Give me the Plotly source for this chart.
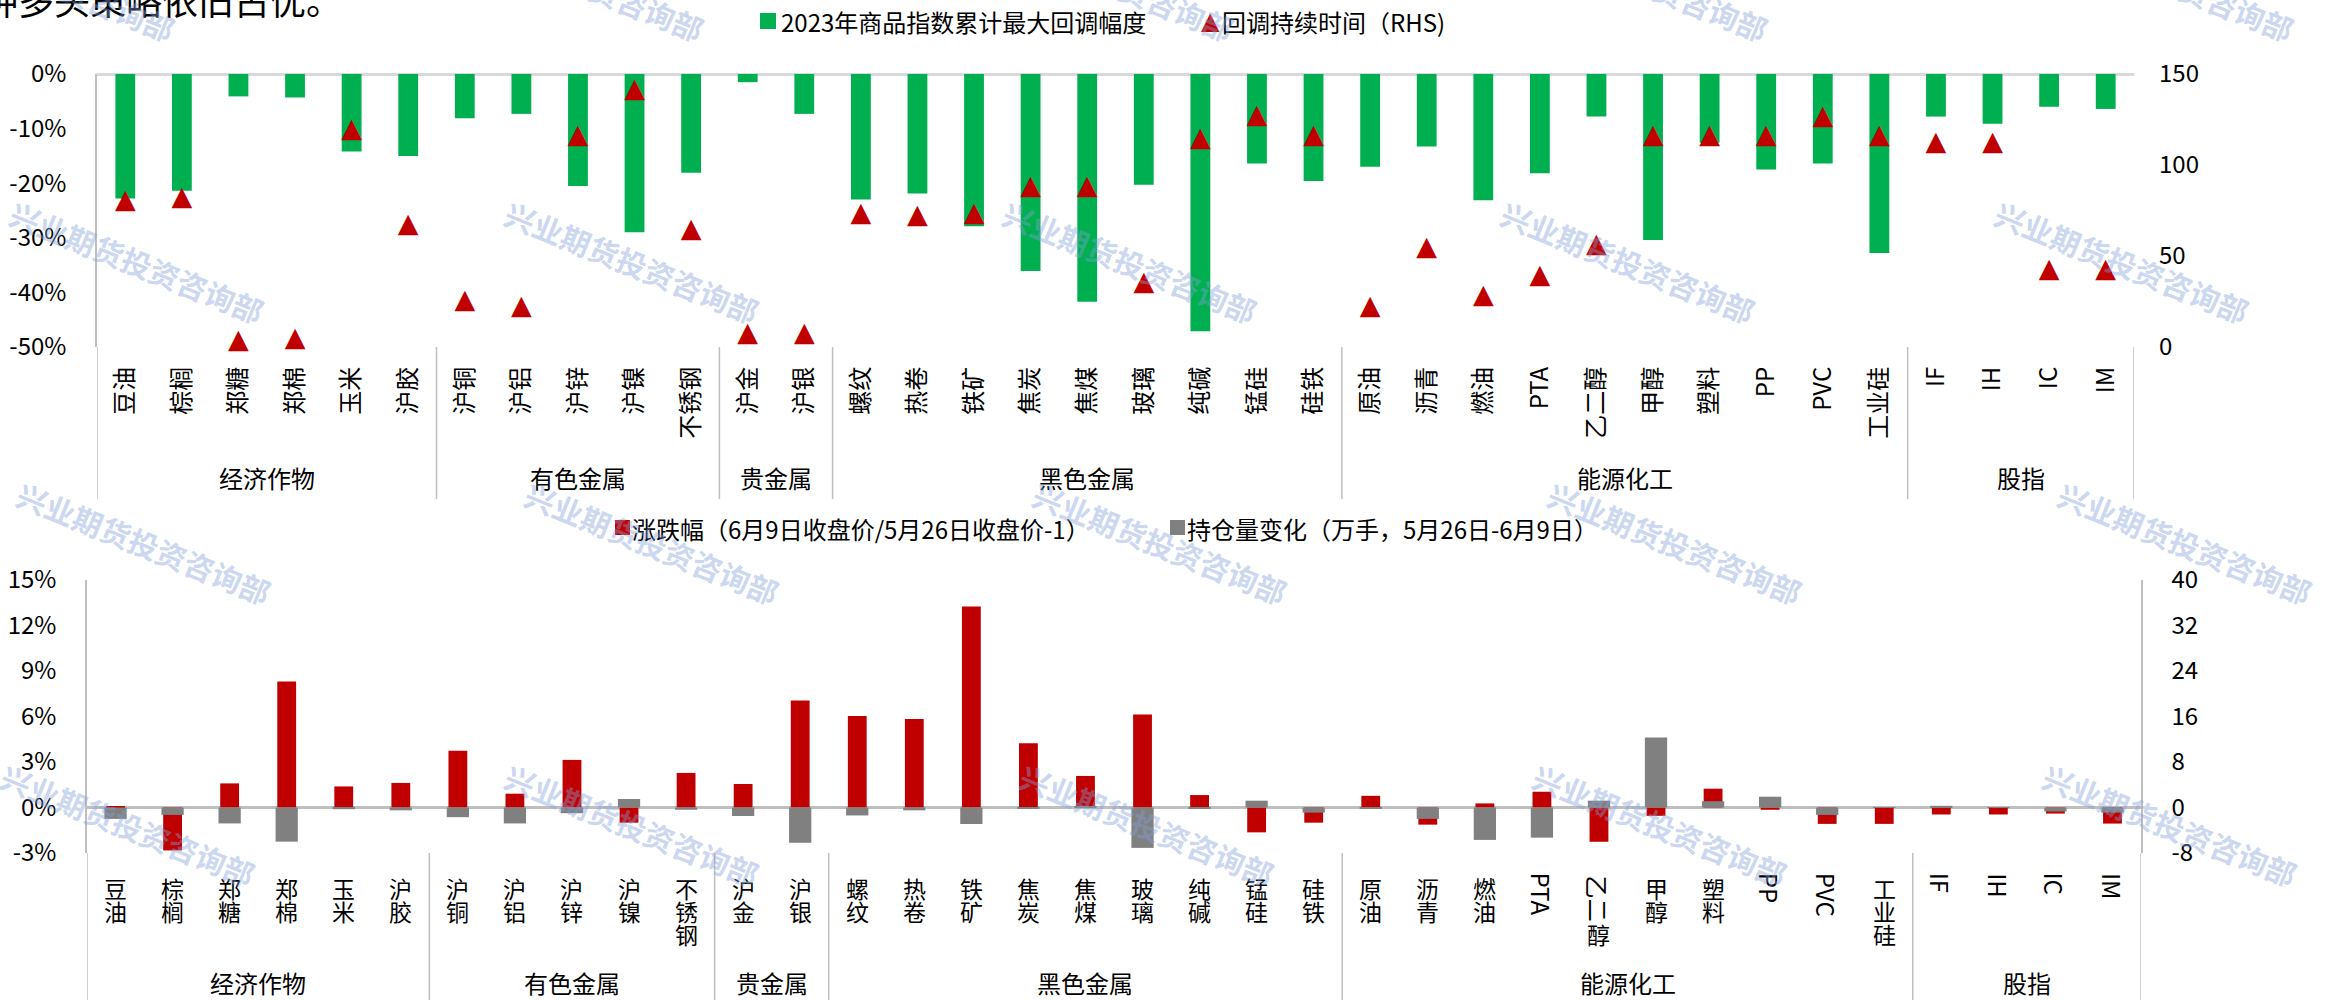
import plotly.graph_objects as go

# ---- data -------------------------------------------------------------
categories = ["豆油", "棕榈", "郑糖", "郑棉", "玉米", "沪胶",
              "沪铜", "沪铝", "沪锌", "沪镍", "不锈钢",
              "沪金", "沪银",
              "螺纹", "热卷", "铁矿", "焦炭", "焦煤", "玻璃", "纯碱", "锰硅", "硅铁",
              "原油", "沥青", "燃油", "PTA", "乙二醇", "甲醇", "塑料", "PP", "PVC", "工业硅",
              "IF", "IH", "IC", "IM"]
group_names = ["经济作物", "有色金属", "贵金属", "黑色金属", "能源化工", "股指"]
group_sizes = [6, 5, 2, 9, 10, 4]

# 2023 max cumulative drawdown of each commodity index (%)
drawdown_2023 = [-22.8, -21.4, -4.1, -4.3, -14.2, -15.0,
                 -8.1, -7.3, -20.5, -29.0, -18.1,
                 -1.5, -7.3,
                 -23.0, -21.9, -27.9, -36.1, -41.7, -20.3, -47.1, -16.4, -19.6,
                 -17.0, -13.3, -23.1, -18.2, -7.8, -30.4, -12.6, -17.5, -16.4, -32.8,
                 -7.8, -9.1, -6.0, -6.4]
# duration of the drawdown (days, right axis)
drawdown_days = [80, 82, 3, 4, 119, 67,
                 25, 22, 116, 141, 64,
                 7, 7,
                 73, 72, 73, 88, 88, 35, 114, 127, 116,
                 22, 54, 28, 39, 56, 116, 116, 116, 126, 116,
                 112, 112, 42, 42]
# price change 5/26 -> 6/9 (%)
price_change = [0.05, -2.83, 1.59, 8.30, 1.39, 1.62,
                3.74, 0.91, 3.14, -1.00, 2.28,
                1.55, 7.06,
                6.04, 5.84, 13.25, 4.23, 2.08, 6.13, 0.82, -1.64, -1.00,
                0.77, -1.13, 0.27, 1.04, -2.26, -0.55, 1.24, -0.15, -1.08, -1.08,
                -0.46, -0.46, -0.40, -1.06]
# open interest change 5/26 -> 6/9 (10k lots, right axis)
oi_change = [-2.0, -1.3, -2.8, -6.0, -0.3, -0.5,
             -1.7, -2.8, -1.0, 1.5, -0.4,
             -1.5, -6.2,
             -1.4, -0.5, -2.9, -0.1, 0.2, -7.1, -0.1, 1.2, -0.9,
             -0.1, -2.0, -5.7, -5.3, 1.2, 12.3, 1.1, 1.9, -1.3, -0.05,
             0.3, -0.05, -0.7, -0.9]

dd_ticks = [-50, -40, -30, -20, -10, 0]
dd_tick_text = ["-50%", "-40%", "-30%", "-20%", "-10%", "0%"]
days_ticks = [0, 50, 100, 150]
days_tick_text = ["0", "50", "100", "150"]
chg_ticks = [-3, 0, 3, 6, 9, 12, 15]
chg_tick_text = ["-3%", "0%", "3%", "6%", "9%", "12%", "15%"]
oi_ticks = [-8, 0, 8, 16, 24, 32, 40]
oi_tick_text = ["-8", "0", "8", "16", "24", "32", "40"]

legend_top = ["2023年商品指数累计最大回调幅度", "回调持续时间（RHS)"]
legend_bottom = ["涨跌幅（6月9日收盘价/5月26日收盘价-1）", "持仓量变化（万手，5月26日-6月9日）"]
lead_text = "种多头策略依旧占优。"
watermark = "兴业期货投资咨询部"

# ---- styling ------------------------------------------------------------
W, H = 2333, 1000
FONT = "Noto Sans CJK SC"
GREEN, RED, GREY = "#00B050", "#C00000", "#808080"
AXIS_GREY = "#BFBFBF"
TRI_SIZE = 27


def px(x):
    return x / W


def py(y):
    return 1 - y / H


top_x = [px(97), px(2134)]
top_y = [py(347), py(74)]
bot_x = [px(87), px(2141)]
bot_y = [py(853), py(580)]

fig = go.Figure()

fig.add_trace(go.Bar(x=categories, y=drawdown_2023, xaxis="x", yaxis="y",
                     width=0.35, marker=dict(color=GREEN, line=dict(width=0)),
                     hoverinfo="x+y"))
fig.add_trace(go.Scatter(x=categories, y=drawdown_days, xaxis="x", yaxis="y2",
                         mode="text", text=["▲"] * len(categories),
                         textposition="middle center",
                         textfont=dict(family="DejaVu Sans", size=TRI_SIZE, color=RED),
                         cliponaxis=False, hoverinfo="x+y"))
fig.add_trace(go.Bar(x=categories, y=price_change, xaxis="x2", yaxis="y3",
                     width=0.33, marker=dict(color=RED, line=dict(width=0)),
                     hoverinfo="x+y"))
fig.add_trace(go.Bar(x=categories, y=oi_change, xaxis="x2", yaxis="y4",
                     width=0.39, marker=dict(color=GREY, line=dict(width=0)),
                     hoverinfo="x+y"))

tickfont = dict(family=FONT, size=24, color="#000000")

shapes = []
annotations = []

# group dividers and group names under both category axes
bounds = [-0.5]
for n in group_sizes:
    bounds.append(bounds[-1] + n)
for b in bounds:
    shapes.append(dict(type="line", xref="x", yref="paper", x0=b, x1=b,
                       y0=py(499), y1=top_y[0], line=dict(color=AXIS_GREY, width=1.5)))
    shapes.append(dict(type="line", xref="x2", yref="paper", x0=b, x1=b,
                       y0=0, y1=bot_y[0], line=dict(color=AXIS_GREY, width=1.5)))
for name, lo, hi in zip(group_names, bounds[:-1], bounds[1:]):
    mid = (lo + hi) / 2
    annotations.append(dict(text=name, xref="x", yref="paper", x=mid, y=py(477),
                            xanchor="center", yanchor="middle", showarrow=False,
                            font=dict(family=FONT, size=24, color="#000000")))
    annotations.append(dict(text=name, xref="x2", yref="paper", x=mid, y=py(982),
                            xanchor="center", yanchor="middle", showarrow=False,
                            font=dict(family=FONT, size=24, color="#000000")))

# lower chart category names: CJK stacked one character per row,
# latin codes turned sideways
sideways_chars = {"乙", "二"}
for name in categories:
    if name.isascii():
        annotations.append(dict(text=name, xref="x2", yref="paper", x=name, y=py(871),
                                xanchor="center", yanchor="top", textangle=90,
                                showarrow=False,
                                font=dict(family=FONT, size=24, color="#000000")))
    else:
        for k, ch in enumerate(name):
            annotations.append(dict(text=ch, xref="x2", yref="paper", x=name,
                                    y=py(887.5 + 23.3 * k), xanchor="center",
                                    yanchor="middle",
                                    textangle=90 if ch in sideways_chars else 0,
                                    showarrow=False,
                                    font=dict(family=FONT, size=23, color="#000000")))

# legends
legend_font = dict(family=FONT, size=24, color="#000000")
shapes.append(dict(type="rect", xref="paper", yref="paper", x0=px(760), x1=px(776),
                   y0=py(29), y1=py(13), fillcolor=GREEN, line=dict(width=0)))
annotations.append(dict(text=legend_top[0], xref="paper", yref="paper", x=px(779), y=py(21),
                        xanchor="left", yanchor="middle", showarrow=False, font=legend_font))
annotations.append(dict(text="▲", xref="paper", yref="paper", x=px(1210), y=py(21),
                        xanchor="center", yanchor="middle", showarrow=False,
                        font=dict(family="DejaVu Sans", size=TRI_SIZE - 3, color=RED)))
annotations.append(dict(text=legend_top[1], xref="paper", yref="paper", x=px(1220), y=py(21),
                        xanchor="left", yanchor="middle", showarrow=False, font=legend_font))

shapes.append(dict(type="rect", xref="paper", yref="paper", x0=px(615), x1=px(630),
                   y0=py(535), y1=py(520), fillcolor=RED, line=dict(width=0)))
annotations.append(dict(text=legend_bottom[0], xref="paper", yref="paper", x=px(630), y=py(528),
                        xanchor="left", yanchor="middle", showarrow=False, font=legend_font))
shapes.append(dict(type="rect", xref="paper", yref="paper", x0=px(1170), x1=px(1185),
                   y0=py(535), y1=py(520), fillcolor=GREY, line=dict(width=0)))
annotations.append(dict(text=legend_bottom[1], xref="paper", yref="paper", x=px(1185), y=py(528),
                        xanchor="left", yanchor="middle", showarrow=False, font=legend_font))

# tail of the preceding paragraph, cut at the top edge
annotations.append(dict(text=lead_text, xref="paper", yref="paper", x=px(-20), y=py(-1),
                        xanchor="left", yanchor="middle", showarrow=False,
                        font=dict(family=FONT, size=36, color="#000000")))

# watermark tiles
wm_rows = [(-20, [48, 577, 1107, 1641, 2167]),
           (262, [137, 632, 1130, 1628, 2122]),
           (543, [144, 652, 1160, 1675, 2185]),
           (825, [128, 632, 1147, 1660, 2170])]
for wy, xs in wm_rows:
    for wx in xs:
        annotations.append(dict(text="<b>" + watermark + "</b>", xref="paper", yref="paper",
                                x=px(wx), y=py(wy), xanchor="center", yanchor="middle",
                                textangle=22, showarrow=False,
                                font=dict(family=FONT, size=30, color="rgba(130,160,220,0.42)")))

fig.update_layout(
    width=W, height=H, autosize=False,
    margin=dict(l=0, r=0, t=0, b=0, pad=0, autoexpand=False),
    paper_bgcolor="white", plot_bgcolor="white",
    showlegend=False, barmode="overlay",
    font=dict(family=FONT, size=24, color="#000000"),
    xaxis=dict(domain=top_x, anchor="y", type="category", range=[-0.5, 35.5],
               tickangle=-90, tickfont=tickfont, showgrid=False, showline=False,
               zeroline=False, ticks="", ticklabelstandoff=14),
    yaxis=dict(domain=top_y, anchor="x", range=[-50, 0], tickvals=dd_ticks,
               ticktext=dd_tick_text, tickfont=tickfont, showgrid=False,
               showline=True, linecolor=AXIS_GREY, linewidth=1.5,
               zeroline=True, zerolinecolor="#D9D9D9", zerolinewidth=2.5,
               ticks="", ticklabelstandoff=24),
    yaxis2=dict(overlaying="y", side="right", anchor="x", range=[0, 150],
                tickvals=days_ticks, ticktext=days_tick_text, tickfont=tickfont,
                showgrid=False, showline=False, zeroline=False, ticks="",
                ticklabelstandoff=24),
    xaxis2=dict(domain=bot_x, anchor="y3", type="category", range=[-0.5, 35.5],
                showticklabels=False, showgrid=False, showline=False,
                zeroline=False, ticks=""),
    yaxis3=dict(domain=bot_y, anchor="x2", range=[-3, 15], tickvals=chg_ticks,
                ticktext=chg_tick_text, tickfont=tickfont, showgrid=False,
                showline=True, linecolor=AXIS_GREY, linewidth=1.5,
                zeroline=True, zerolinecolor=AXIS_GREY, zerolinewidth=2.5,
                ticks="", ticklabelstandoff=24),
    yaxis4=dict(overlaying="y3", side="right", anchor="x2", range=[-8, 40],
                tickvals=oi_ticks, ticktext=oi_tick_text, tickfont=tickfont,
                showgrid=False, showline=True, linecolor=AXIS_GREY, linewidth=1.5,
                zeroline=False, ticks="", ticklabelstandoff=24),
    shapes=shapes,
    annotations=annotations,
)

fig.write_html("out.html")
